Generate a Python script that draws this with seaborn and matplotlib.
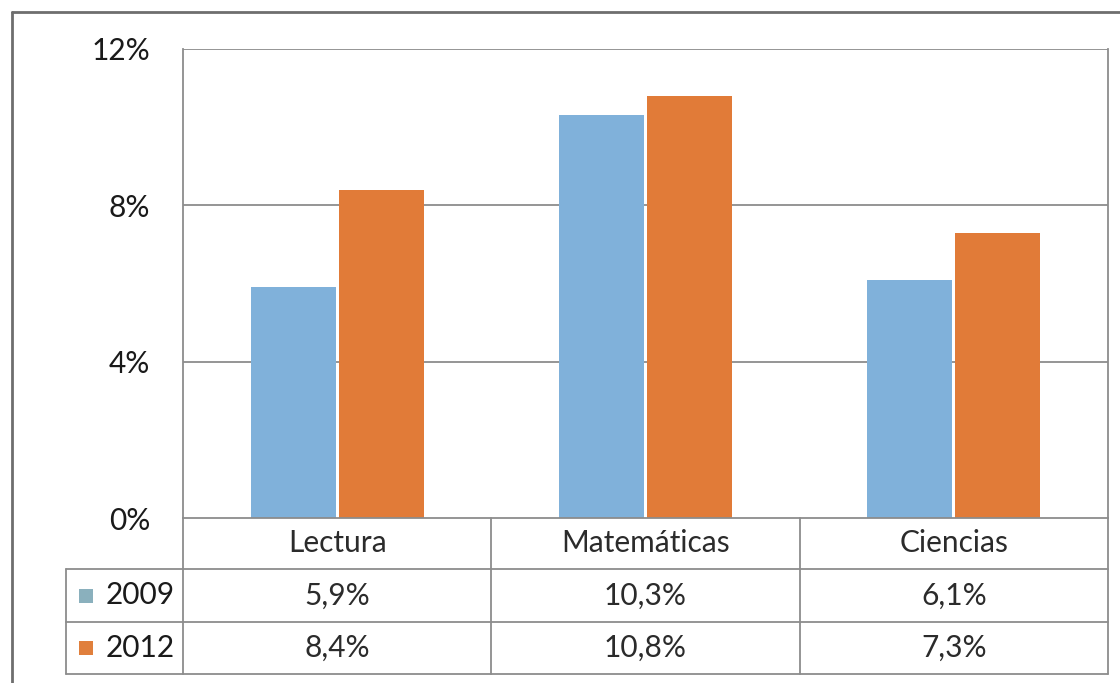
import matplotlib
matplotlib.use("Agg")
import matplotlib.pyplot as plt
from matplotlib.lines import Line2D
import matplotlib.transforms as mtransforms
import seaborn as sns
import pandas as pd

# ---- data ----
categories = ["Lectura", "Matemáticas", "Ciencias"]
years = ["2009", "2012"]
values_2009 = [5.9, 10.3, 6.1]
values_2012 = [8.4, 10.8, 7.3]
y_ticks = [0, 4, 8, 12]
y_tick_labels = ["0%", "4%", "8%", "12%"]

colors = ["#80B1DA", "#E17B38"]
key_colors = ["#8AB0BD", "#E07F3C"]

df = pd.DataFrame({
    "Área": categories * 2,
    "Año": [years[0]] * 3 + [years[1]] * 3,
    "valor": values_2009 + values_2012,
})

sns.set_theme(style="white")
plt.rcParams["font.family"] = ["Lato", "DejaVu Sans"]

FS = 21.5
W, H = 1120, 683
fig = plt.figure(figsize=(W / 100, H / 100), dpi=100)
fig.patch.set_facecolor("white")

left, right, top, bottom = 183, 1108, 49, 518
ax = fig.add_axes([left / W, 1 - bottom / H, (right - left) / W, (bottom - top) / H])

sns.barplot(data=df, x="Área", y="valor", hue="Año", palette=colors, saturation=1,
            width=0.57, gap=0.035, legend=False, ax=ax, linewidth=0)

ax.set_xlim(-0.5, 2.5)
ax.set_ylim(0, 12)
ax.set_yticks(y_ticks)
ax.set_yticklabels(y_tick_labels, fontsize=FS, color="#1a1a1a")
ax.tick_params(axis="y", length=0, pad=23.5)
ax.set_xticks([])
ax.set_xlabel("")
ax.set_ylabel("")
for t in y_ticks[1:]:
    ax.axhline(t, color="#8c8c8c", lw=1.3, zorder=0)
for s in ["left", "right", "bottom"]:
    ax.spines[s].set_color("#8c8c8c")
    ax.spines[s].set_linewidth(1.3)
ax.spines["top"].set_visible(False)

# ---- data table below the axes ----
line_kw = dict(color="#8c8c8c", lw=1.3, clip_on=False)
row_edges = [(bottom - y) / (bottom - top) for y in (518, 569, 622, 674)]
label_left = (66 - left) / (right - left)

trans_ax = ax.transAxes
trans_blend = mtransforms.blended_transform_factory(ax.transData, ax.transAxes)

# horizontal lines
for r in row_edges[1:]:
    ax.add_line(Line2D([label_left, 1], [r, r], transform=trans_ax, **line_kw))
# vertical lines
for xb in [-0.5, 0.5, 1.5, 2.5]:
    ax.add_line(Line2D([xb, xb], [row_edges[0], row_edges[3]], transform=trans_blend, **line_kw))
ax.add_line(Line2D([label_left, label_left], [row_edges[1], row_edges[3]], transform=trans_ax, **line_kw))

text_kw = dict(fontsize=FS, color="#2b2b2b", ha="center", va="center", clip_on=False)
hdr_y = (row_edges[0] + row_edges[1]) / 2
for i, c in enumerate(categories):
    ax.text(i, hdr_y, c, transform=trans_blend, **text_kw)

series = [values_2009, values_2012]
for k, (yr, vals) in enumerate(zip(years, series)):
    ry = (row_edges[k + 1] + row_edges[k + 2]) / 2
    for i, v in enumerate(vals):
        ax.text(i, ry, f"{v:.1f}%".replace(".", ","), transform=trans_blend, **text_kw)
    # legend key + year label
    ax.scatter([(86 - left) / (right - left)], [ry], marker="s", s=95,
               color=key_colors[k], transform=trans_ax, clip_on=False, linewidths=0)
    ax.text((106 - left) / (right - left), ry, yr, transform=trans_ax,
            fontsize=FS, color="#1a1a1a", ha="left", va="center", clip_on=False)

# outer chart border (left and top edges visible)
fig.add_artist(Line2D([12 / W, 12 / W], [0, 1 - 12 / H], transform=fig.transFigure,
                      color="#6e6e6e", lw=2))
fig.add_artist(Line2D([12 / W, 1], [1 - 12 / H, 1 - 12 / H], transform=fig.transFigure,
                      color="#6e6e6e", lw=2))

fig.savefig("out.png", dpi=100, facecolor="white")
